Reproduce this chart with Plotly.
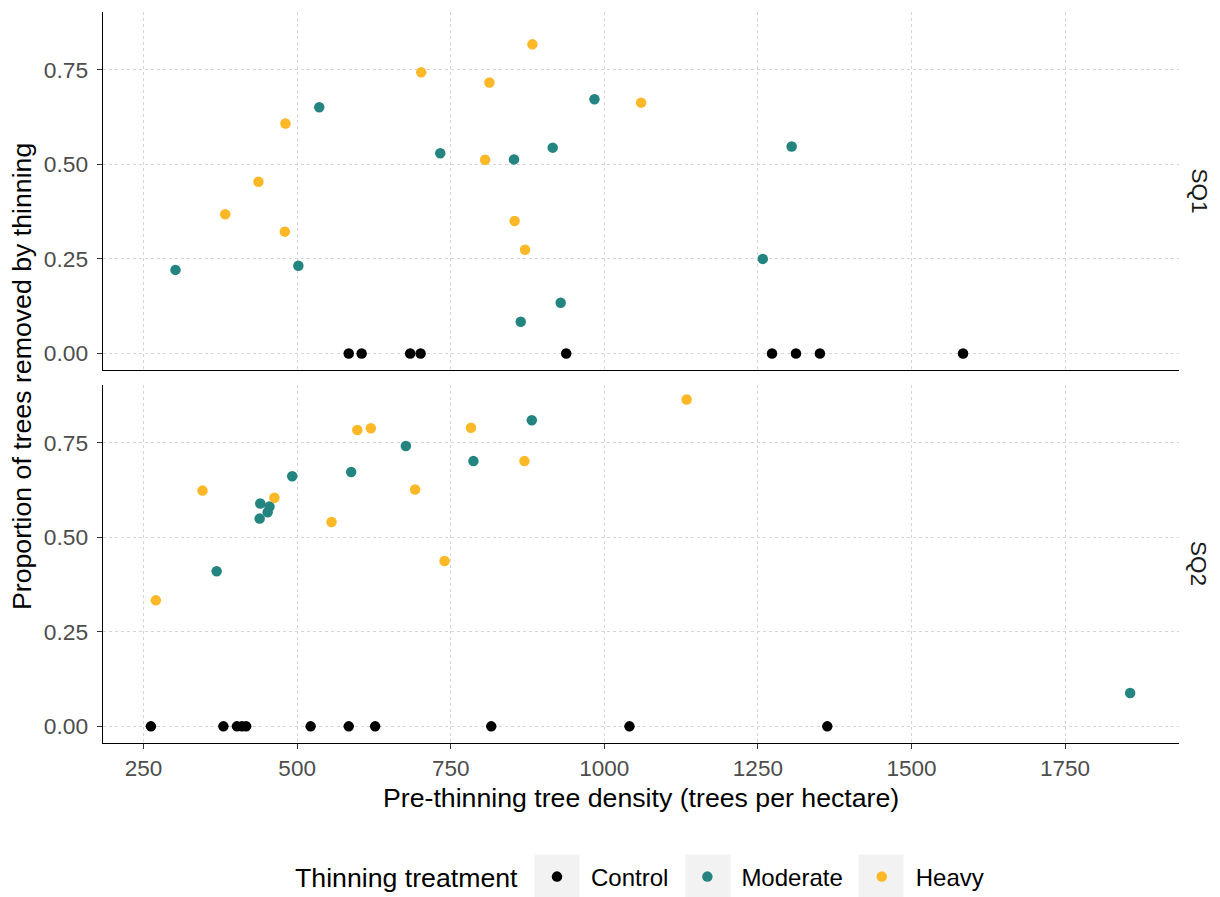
import plotly.graph_objects as go
from plotly.subplots import make_subplots

# ---------------- data ----------------
treatments = ["Control", "Moderate", "Heavy"]
colors = {"Control": "#000000", "Moderate": "#248580", "Heavy": "#FDB827"}

sq1_control_x = [584, 605, 684, 701, 938, 1273, 1312, 1351, 1584]
sq1_control_y = [0, 0, 0, 0, 0, 0, 0, 0, 0]
sq1_moderate_x = [302, 502, 536, 733, 853, 864, 916, 929, 984, 1258, 1305]
sq1_moderate_y = [0.221, 0.232, 0.651, 0.529, 0.513, 0.084, 0.544, 0.134, 0.672, 0.250, 0.547]
sq1_heavy_x = [383, 437, 480, 481, 702, 806, 813, 854, 871, 883, 1060]
sq1_heavy_y = [0.368, 0.454, 0.322, 0.608, 0.743, 0.512, 0.716, 0.350, 0.274, 0.817, 0.663]

sq2_control_x = [262, 380, 402, 410, 417, 522, 584, 627, 816, 1041, 1363]
sq2_control_y = [0, 0, 0, 0, 0, 0, 0, 0, 0, 0, 0]
sq2_moderate_x = [369, 439, 440, 452, 455, 492, 588, 677, 787, 882, 1856]
sq2_moderate_y = [0.410, 0.549, 0.589, 0.566, 0.581, 0.661, 0.672, 0.741, 0.701, 0.809, 0.088]
sq2_heavy_x = [270, 346, 463, 556, 598, 620, 692, 740, 783, 870, 1134]
sq2_heavy_y = [0.333, 0.623, 0.604, 0.540, 0.783, 0.788, 0.626, 0.437, 0.789, 0.701, 0.864]

x_ticks = [250, 500, 750, 1000, 1250, 1500, 1750]
y_ticks = [0.0, 0.25, 0.5, 0.75]
panels = ["SQ1", "SQ2"]

data = {
    "SQ1": {"Control": (sq1_control_x, sq1_control_y),
            "Moderate": (sq1_moderate_x, sq1_moderate_y),
            "Heavy": (sq1_heavy_x, sq1_heavy_y)},
    "SQ2": {"Control": (sq2_control_x, sq2_control_y),
            "Moderate": (sq2_moderate_x, sq2_moderate_y),
            "Heavy": (sq2_heavy_x, sq2_heavy_y)},
}

# ---------------- figure ----------------
OFF = 8  # default body margin of the html page
W, H = 1212, 897
ML, MR, MT, MB = 95, 41, 4, 162
PW, PH = W - ML - MR, H - MT - MB
FONT = "Liberation Sans, Arial, sans-serif"


def py2paper(page_y):
    return (H - MB - (page_y - OFF)) / PH


def px2paper(page_x):
    return (page_x - OFF - ML) / PW


fig = make_subplots(rows=2, cols=1, shared_xaxes=True, vertical_spacing=14.7 / PH)

for r, panel in enumerate(panels, start=1):
    for t in treatments:
        xs, ys = data[panel][t]
        fig.add_trace(go.Scatter(
            x=xs, y=ys, mode="markers", name=t, legendgroup=t,
            showlegend=(r == 1),
            marker=dict(color=colors[t], size=10.5, line=dict(width=0)),
        ), row=r, col=1)

grid = dict(showgrid=True, gridcolor="#D6D6D6", gridwidth=0.7, griddash="3px,3px",
            zeroline=False, showline=True, linecolor="#000000", linewidth=1.4, mirror=False)

for r in (1, 2):
    fig.update_xaxes(range=[184, 1935.5], tickvals=x_ticks, **grid, row=r, col=1)
    fig.update_yaxes(range=[-0.044, 0.9025], tickvals=y_ticks, tickformat=".2f",
                     ticks="outside", ticklen=5, tickwidth=1.4, tickcolor="#333333",
                     ticklabelstandoff=4,
                     tickfont=dict(family=FONT, size=22.8, color="#4D4D4D"), **grid, row=r, col=1)

fig.update_xaxes(showticklabels=False, ticks="", row=1, col=1)
fig.update_xaxes(ticks="outside", ticklen=5, tickwidth=1.4, tickcolor="#333333",
                 tickfont=dict(family=FONT, size=22.5, color="#4D4D4D"), row=2, col=1)

annotations = [
    dict(text="Pre-thinning tree density (trees per hectare)", x=px2paper(641), y=py2paper(798),
         xref="paper", yref="paper", xanchor="center", yanchor="middle", showarrow=False,
         font=dict(family=FONT, size=26.7, color="#000000")),
    dict(text="Proportion of trees removed by thinning", x=px2paper(22), y=py2paper(377),
         xref="paper", yref="paper", xanchor="center", yanchor="middle", showarrow=False,
         textangle=-90, font=dict(family=FONT, size=26.7, color="#000000")),
    dict(text="SQ1", x=px2paper(1199), y=py2paper(190.5), xref="paper", yref="paper",
         xanchor="center", yanchor="middle", showarrow=False, textangle=90,
         font=dict(family=FONT, size=22.5, color="#1A1A1A")),
    dict(text="SQ2", x=px2paper(1199), y=py2paper(563), xref="paper", yref="paper",
         xanchor="center", yanchor="middle", showarrow=False, textangle=90,
         font=dict(family=FONT, size=22.5, color="#1A1A1A")),
    dict(text="Thinning treatment", x=px2paper(520), y=py2paper(878), xref="paper", yref="paper",
         xanchor="right", yanchor="middle", showarrow=False,
         font=dict(family=FONT, size=26.7, color="#000000")),
]

shapes = []
for x0, x1 in [(534.5, 579.5), (685.5, 730.5), (858.5, 903.5)]:
    shapes.append(dict(type="rect", xref="paper", yref="paper",
                       x0=px2paper(x0), x1=px2paper(x1), y0=py2paper(854.5), y1=py2paper(899.5),
                       fillcolor="#F2F2F2", line=dict(width=0), layer="below"))

fig.update_layout(
    width=W, height=H,
    margin=dict(l=ML, r=MR, t=MT, b=MB),
    paper_bgcolor="#FFFFFF", plot_bgcolor="#FFFFFF",
    annotations=annotations, shapes=shapes,
    showlegend=True,
    legend=dict(orientation="h", x=px2paper(523), xanchor="left", y=py2paper(877), yanchor="middle",
                font=dict(family=FONT, size=24, color="#000000"),
                itemwidth=58, bgcolor="rgba(0,0,0,0)", borderwidth=0),
    font=dict(family=FONT),
)

fig.write_html("out.html")
